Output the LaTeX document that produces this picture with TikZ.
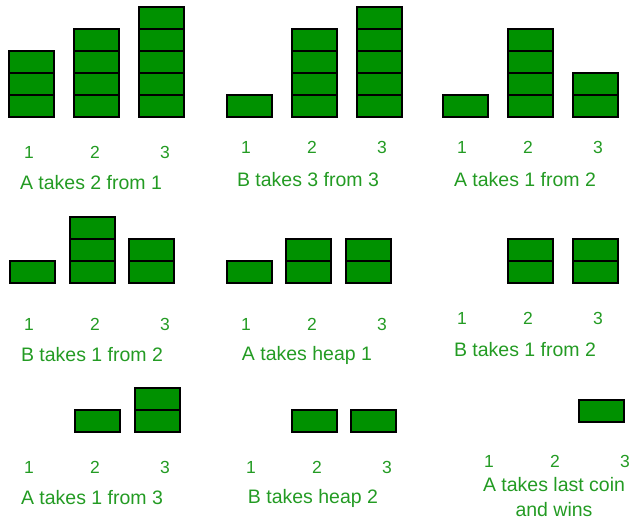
\documentclass[tikz,border=0pt]{standalone}
\usepackage{fontspec}
\setmainfont{Liberation Sans}
\definecolor{coin}{RGB}{0,145,0}
\definecolor{txt}{RGB}{35,155,35}

\tikzset{
  coinbox/.style={draw=black, fill=coin, line width=1.5pt},
  num/.style={text=txt, font=\fontsize{17.5}{17.5}\selectfont},
  caption/.style={text=txt, font=\fontsize{19.5}{25}\selectfont, align=center},
}

% heap of #3 coins: left edge #1, bottom edge #2
\newcommand{\heap}[3]{%
  \foreach \k in {1,...,#3}
    \draw[coinbox] (#1,#2-22*\k+22) rectangle (#1+45,#2-22*\k);
}

\begin{document}
\begin{tikzpicture}[x=1pt, y=-1pt]
  \useasboundingbox (0,0) rectangle (630,523);

  % row 1
  \heap{9}{117}{3} \heap{74}{117}{4} \heap{139}{117}{5}
  \node[num] (a1) at (29,152) {1};
  \node[num] (a2) at (95,152) {2};
  \node[num] (a3) at (165,152) {3};
  \node[caption] (capa) at (91,183) {A takes 2 from 1};

  \heap{227}{117}{1} \heap{292}{117}{4} \heap{357}{117}{5}
  \node[num] (b1) at (246,147) {1};
  \node[num] (b2) at (312,147) {2};
  \node[num] (b3) at (382,147) {3};
  \node[caption] (capb) at (308,180) {B takes 3 from 3};

  \heap{443}{117}{1} \heap{508}{117}{4} \heap{573}{117}{2}
  \node[num] (c1) at (462,147) {1};
  \node[num] (c2) at (528,147) {2};
  \node[num] (c3) at (598,147) {3};
  \node[caption] (capc) at (525,180) {A takes 1 from 2};

  % row 2
  \heap{10}{283}{1} \heap{70}{283}{3} \heap{129}{283}{2}
  \node[num] (d1) at (29,324) {1};
  \node[num] (d2) at (95,324) {2};
  \node[num] (d3) at (165,324) {3};
  \node[caption] (capd) at (92,355) {B takes 1 from 2};

  \heap{227}{283}{1} \heap{286}{283}{2} \heap{346}{283}{2}
  \node[num] (e1) at (246,324) {1};
  \node[num] (e2) at (312,324) {2};
  \node[num] (e3) at (382,324) {3};
  \node[caption] (cape) at (307,355) {A takes heap 1};

  \heap{508}{283}{2} \heap{573}{283}{2}
  \node[num] (f1) at (462,318) {1};
  \node[num] (f2) at (528,318) {2};
  \node[num] (f3) at (598,318) {3};
  \node[caption] (capf) at (525,350) {B takes 1 from 2};

  % row 3
  \heap{75}{432}{1} \heap{135}{432}{2}
  \node[num] (g1) at (29,467) {1};
  \node[num] (g2) at (95,467) {2};
  \node[num] (g3) at (165,467) {3};
  \node[caption] (capg) at (92,498) {A takes 1 from 3};

  \heap{292}{432}{1} \heap{351}{432}{1}
  \node[num] (h1) at (251,467) {1};
  \node[num] (h2) at (317,467) {2};
  \node[num] (h3) at (387,467) {3};
  \node[caption] (caph) at (313,498) {B takes heap 2};

  \heap{579}{422}{1}
  \node[num] (i1) at (489,461) {1};
  \node[num] (i2) at (555,461) {2};
  \node[num] (i3) at (625,461) {3};
  \node[caption] (capi) at (554,497) {A takes last coin\\and wins};
\end{tikzpicture}
\end{document}
